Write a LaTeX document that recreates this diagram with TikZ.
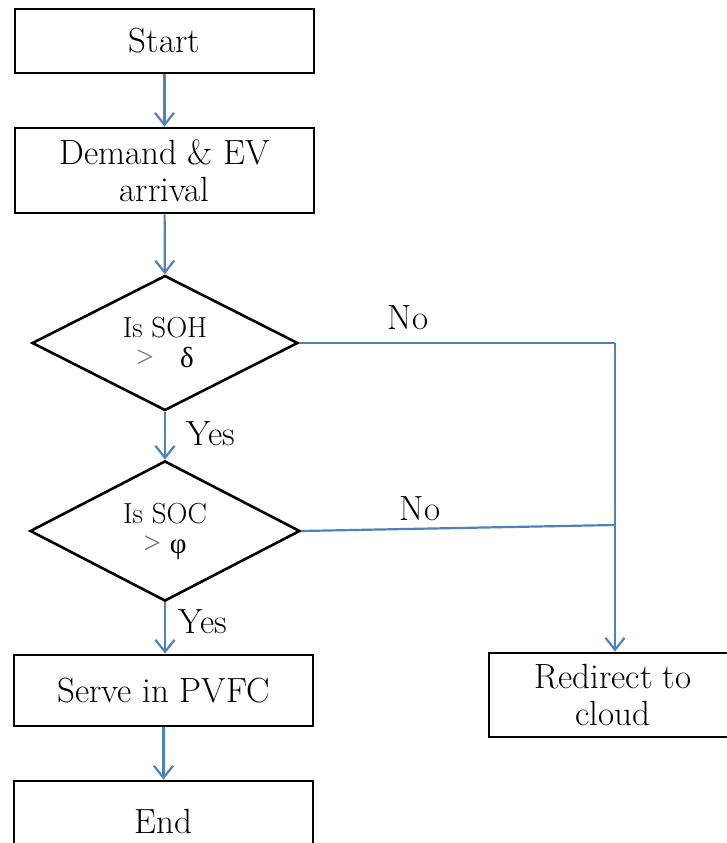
\documentclass[tikz,border=0pt]{standalone}
\usepackage{fontspec}
\newfontfamily\grkfont{Liberation Serif}
\usetikzlibrary{shapes.geometric,arrows.meta}
\definecolor{flowblue}{RGB}{79,129,189}
\definecolor{gtgray}{RGB}{120,120,120}
\newcommand{\gtsign}{{\grkfont\fontsize{31}{32}\selectfont\color{gtgray}>}}
\begin{document}
\begin{tikzpicture}[x=1pt,y=-1pt,
  boxnode/.style={draw=black,line width=2.8pt,rectangle,inner sep=0pt,align=center,
    font=\fontsize{35}{37}\selectfont},
  decnode/.style={draw=black,line width=2.6pt,diamond,inner sep=0pt,align=center,
    font=\fontsize{29}{32}\selectfont},
  flow/.style={draw=flowblue,line width=2.2pt},
  flowarrow/.style={flow,-{Straight Barb[length=12pt,width=19pt,line width=2.2pt]}},
  lbl/.style={inner sep=0pt,font=\fontsize{35}{37}\selectfont}]
\useasboundingbox (0,0) rectangle (726,843);
\fill[white] (0,0) rectangle (726,843);
\node[boxnode,minimum width=299pt,minimum height=64pt] (start) at (164.5,41) {Start};
\node[boxnode,minimum width=299pt,minimum height=85pt] (demand) at (164.5,170.5) {Demand \& EV\\arrival};
\node[decnode,minimum width=266pt,minimum height=130pt] (d1) at (165,343)
  {Is SOH\\[-2pt]\gtsign\ \ \ {\grkfont δ}};
\node[decnode,minimum width=270pt,minimum height=136pt] (d2) at (165,531)
  {Is SOC\\[-2pt]\gtsign\ {\grkfont φ}};
\node[boxnode,minimum width=299pt,minimum height=71pt] (serve) at (163.5,690.5) {Serve in PVFC};
\node[boxnode,minimum width=299pt,minimum height=80pt] (end) at (163.5,821) {End};
\node[boxnode,minimum width=248pt,minimum height=84pt] (redirect) at (613,695) {Redirect to\\cloud};
\coordinate (j1) at (615,343);
\coordinate (j2) at (615,525);
\draw[flowarrow] (start) -- (demand);
\draw[flowarrow] (demand) -- (d1);
\draw[flowarrow] (d1) -- (d2);
\draw[flowarrow] (d2.south) -- (d2.south |- serve.north);
\draw[flowarrow] (serve.south) -- (serve.south |- end.north);
\draw[flow] (d1.east) -- (j1);
\draw[flow] (d2.east) -- (j2);
\draw[flowarrow] (j1) -- (j1 |- redirect.north);
\node[lbl] (yes1) at (211,434) {Yes};
\node[lbl] (yes2) at (203,622) {Yes};
\node[lbl] (no1) at (408,318) {No};
\node[lbl] (no2) at (420,509) {No};
\end{tikzpicture}
\end{document}
